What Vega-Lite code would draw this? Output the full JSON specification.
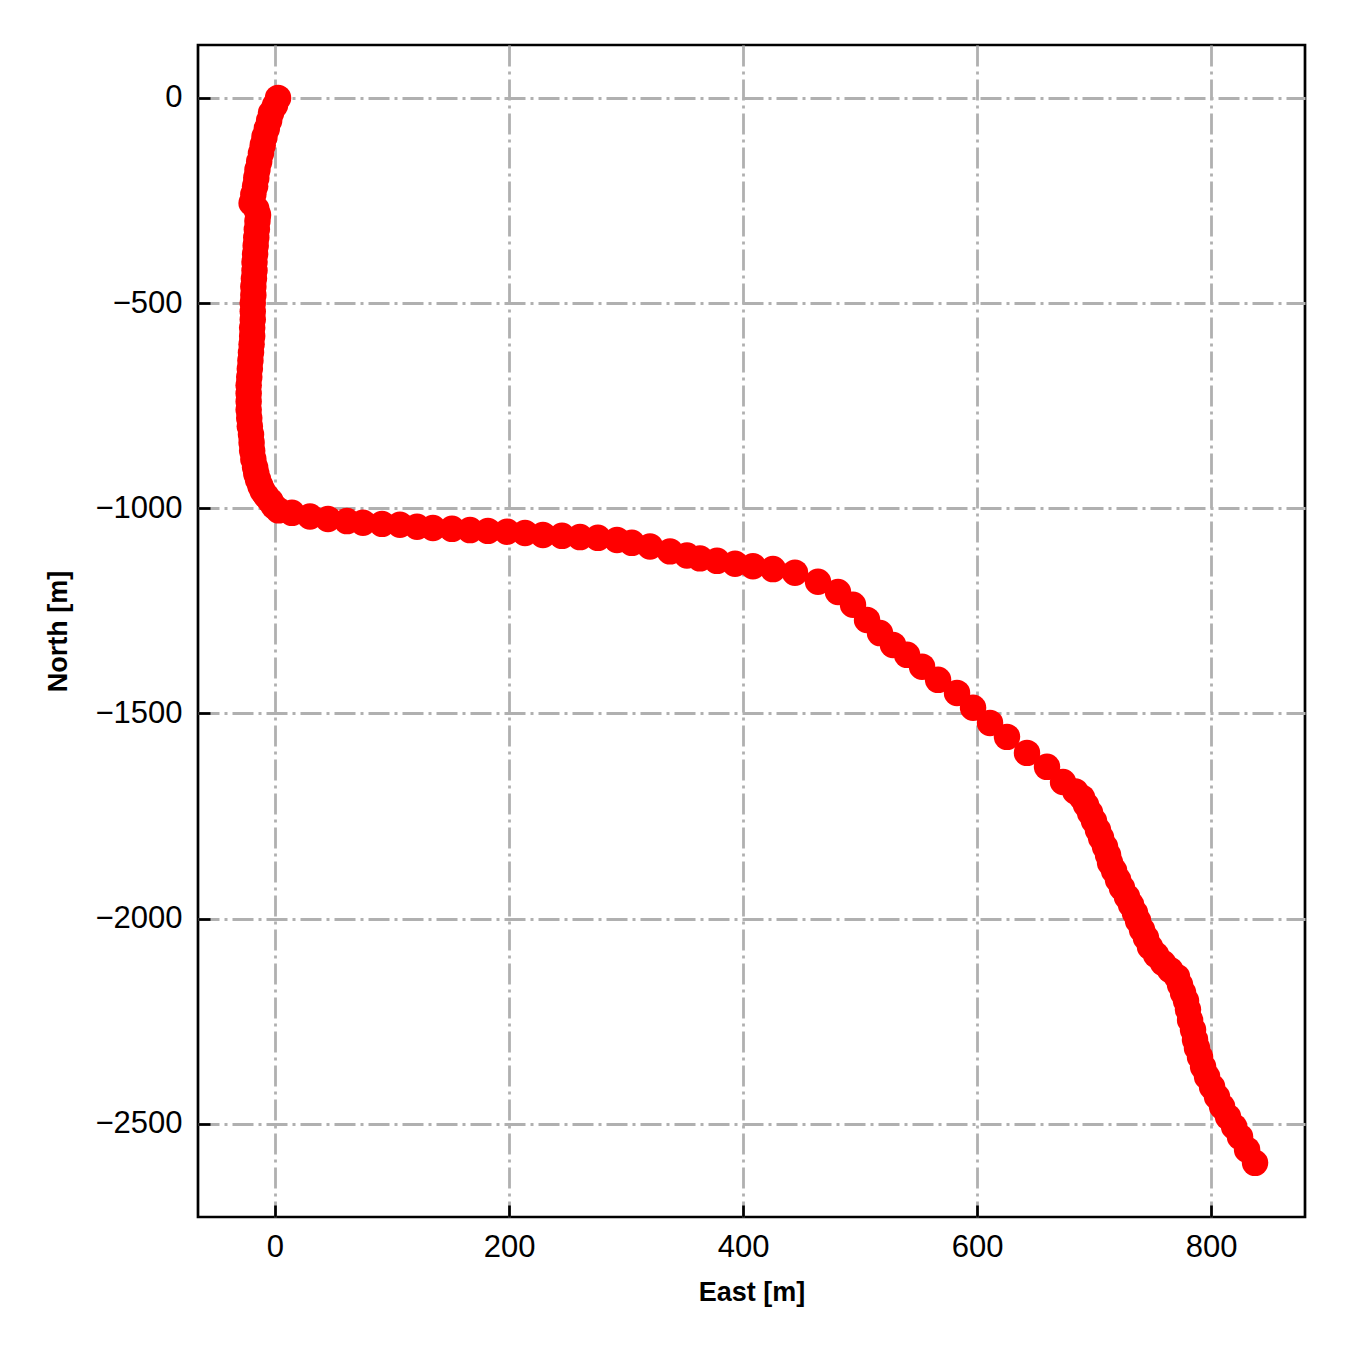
{
  "$schema": "https://vega.github.io/schema/vega-lite/v6.json",
  "width": 1107,
  "height": 1172,
  "autosize": "none",
  "padding": {"left": 198, "top": 45, "right": 45, "bottom": 133},
  "background": "white",
  "config": {
    "view": {"stroke": "black", "strokeWidth": 2.7},
    "font": "Liberation Sans"
  },
  "data": {
    "values": [
      {"e": 2.6, "n": 0}, {"e": 0, "n": -18}, {"e": -3.4, "n": -37}, {"e": -5, "n": -55},
      {"e": -7, "n": -75}, {"e": -9, "n": -95}, {"e": -10.5, "n": -115}, {"e": -12, "n": -135},
      {"e": -13.5, "n": -155}, {"e": -15, "n": -175}, {"e": -16, "n": -195}, {"e": -17, "n": -215},
      {"e": -18.5, "n": -235}, {"e": -20, "n": -256}, {"e": -16, "n": -270}, {"e": -14.5, "n": -285},
      {"e": -15, "n": -300}, {"e": -15.5, "n": -320}, {"e": -16, "n": -340}, {"e": -16.5, "n": -360},
      {"e": -17, "n": -380}, {"e": -17.5, "n": -400}, {"e": -17.5, "n": -420}, {"e": -18, "n": -440},
      {"e": -18.5, "n": -460}, {"e": -18.5, "n": -480}, {"e": -19, "n": -500}, {"e": -19, "n": -520},
      {"e": -19, "n": -540}, {"e": -19.5, "n": -560}, {"e": -19.5, "n": -580}, {"e": -20, "n": -600},
      {"e": -20.5, "n": -620}, {"e": -21, "n": -640}, {"e": -21.5, "n": -660}, {"e": -22, "n": -680},
      {"e": -22.5, "n": -700}, {"e": -22.5, "n": -720}, {"e": -22.5, "n": -740}, {"e": -22.5, "n": -760},
      {"e": -22, "n": -780}, {"e": -21.5, "n": -800}, {"e": -20.5, "n": -820}, {"e": -20, "n": -840},
      {"e": -19.5, "n": -860}, {"e": -18.5, "n": -880}, {"e": -17, "n": -900}, {"e": -16, "n": -915},
      {"e": -14.5, "n": -930}, {"e": -12.5, "n": -945}, {"e": -10.5, "n": -958}, {"e": -7.5, "n": -970},
      {"e": -4, "n": -982}, {"e": -1, "n": -995}, {"e": 3, "n": -1005},
      {"e": 14.5, "n": -1011}, {"e": 29.9, "n": -1020}, {"e": 45.3, "n": -1026}, {"e": 61.5, "n": -1031},
      {"e": 75.2, "n": -1035}, {"e": 91.5, "n": -1038}, {"e": 106.8, "n": -1040}, {"e": 121.4, "n": -1045},
      {"e": 135, "n": -1048}, {"e": 151.3, "n": -1050}, {"e": 166.7, "n": -1053}, {"e": 182, "n": -1055},
      {"e": 198.3, "n": -1057}, {"e": 213.7, "n": -1060}, {"e": 229, "n": -1065}, {"e": 245.3, "n": -1067},
      {"e": 260.7, "n": -1070}, {"e": 276, "n": -1072}, {"e": 292.3, "n": -1077}, {"e": 305, "n": -1084},
      {"e": 320.5, "n": -1093}, {"e": 337.6, "n": -1105}, {"e": 352.1, "n": -1115}, {"e": 363.2, "n": -1122},
      {"e": 377.8, "n": -1128}, {"e": 393.2, "n": -1135}, {"e": 408.5, "n": -1141}, {"e": 425.6, "n": -1148},
      {"e": 444.4, "n": -1157}, {"e": 464.1, "n": -1179}, {"e": 481.2, "n": -1204}, {"e": 494, "n": -1235},
      {"e": 506, "n": -1272}, {"e": 517.1, "n": -1304}, {"e": 528.2, "n": -1333}, {"e": 540.2, "n": -1357},
      {"e": 553, "n": -1386}, {"e": 566.7, "n": -1418}, {"e": 582.9, "n": -1450}, {"e": 596.6, "n": -1486},
      {"e": 611.1, "n": -1523}, {"e": 625.6, "n": -1557}, {"e": 642.7, "n": -1596}, {"e": 659.8, "n": -1630},
      {"e": 673.5, "n": -1667}, {"e": 684, "n": -1690}, {"e": 689.7, "n": -1705}, {"e": 693.2, "n": -1723}, {"e": 696.6, "n": -1742},
      {"e": 700, "n": -1762}, {"e": 703.4, "n": -1784}, {"e": 706, "n": -1803}, {"e": 709.4, "n": -1825},
      {"e": 712, "n": -1845}, {"e": 713.7, "n": -1864}, {"e": 717.1, "n": -1883}, {"e": 720.5, "n": -1905},
      {"e": 723.9, "n": -1925}, {"e": 728.2, "n": -1947}, {"e": 731.6, "n": -1966}, {"e": 735, "n": -1986},
      {"e": 737.6, "n": -2005}, {"e": 741, "n": -2027}, {"e": 744.4, "n": -2047}, {"e": 747.9, "n": -2069},
      {"e": 753, "n": -2088}, {"e": 759, "n": -2108}, {"e": 765, "n": -2125}, {"e": 770.9, "n": -2142},
      {"e": 773.5, "n": -2161}, {"e": 776.1, "n": -2181}, {"e": 778.6, "n": -2200}, {"e": 780.3, "n": -2222},
      {"e": 782.1, "n": -2247}, {"e": 784.6, "n": -2271}, {"e": 786.3, "n": -2295}, {"e": 788, "n": -2315},
      {"e": 790.6, "n": -2337}, {"e": 793.2, "n": -2361}, {"e": 796.6, "n": -2385}, {"e": 800.9, "n": -2410},
      {"e": 805.1, "n": -2434}, {"e": 809.4, "n": -2458}, {"e": 814.5, "n": -2483}, {"e": 819.7, "n": -2507},
      {"e": 824.8, "n": -2532}, {"e": 830.8, "n": -2563}, {"e": 837.6, "n": -2595}
    ]
  },
  "mark": {"type": "circle", "color": "#ff0000", "opacity": 1, "size": 700},
  "encoding": {
    "x": {
      "field": "e",
      "type": "quantitative",
      "scale": {"domain": [-65.8, 880.3], "nice": false, "zero": false},
      "axis": {
        "title": "East [m]",
        "values": [0, 200, 400, 600, 800],
        "format": "d",
        "grid": true,
        "gridColor": "#b0b0b0",
        "gridWidth": 2.8,
        "gridDash": [21, 5, 3, 5],
        "domain": false,
        "tickSize": -12,
        "tickWidth": 2.7,
        "tickColor": "black",
        "labelFontSize": 31,
        "labelColor": "black",
        "labelPadding": 27,
        "labelFlush": false,
        "titleFontSize": 27,
        "titleFontWeight": "bold",
        "titleColor": "black",
        "titleY": 83,
        "titleBaseline": "alphabetic"
      }
    },
    "y": {
      "field": "n",
      "type": "quantitative",
      "scale": {"domain": [-2727, 129], "nice": false, "zero": false},
      "axis": {
        "title": "North [m]",
        "values": [-2500, -2000, -1500, -1000, -500, 0],
        "format": "d",
        "grid": true,
        "gridColor": "#b0b0b0",
        "gridWidth": 2.8,
        "gridDash": [21, 5, 3, 5],
        "domain": false,
        "tickSize": -12,
        "tickWidth": 2.7,
        "tickColor": "black",
        "labelFontSize": 31,
        "labelColor": "black",
        "labelPadding": 28,
        "labelFlush": false,
        "titleFontSize": 27,
        "titleFontWeight": "bold",
        "titleColor": "black",
        "titleX": -132,
        "titleY": 586,
        "titleAngle": 270,
        "titleBaseline": "alphabetic"
      }
    }
  }
}
